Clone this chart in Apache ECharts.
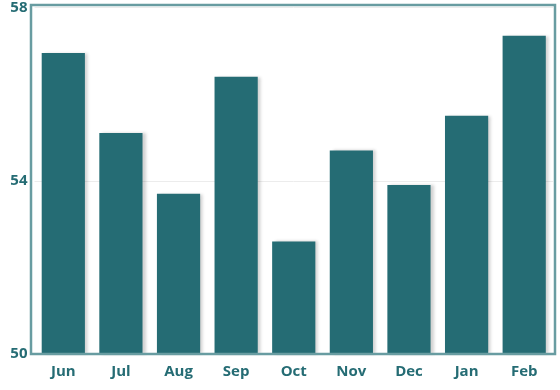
<!DOCTYPE html>
<html><head><meta charset="utf-8">
<script src="https://cdn.jsdelivr.net/npm/echarts@6/dist/echarts.min.js"></script>
<style>html,body{margin:0;padding:0;background:#fff}#c{width:560px;height:390px}</style>
</head><body><div id="c"></div>
<script>
const categories = ['Jun','Jul','Aug','Sep','Oct','Nov','Dec','Jan','Feb'];
const values = [56.95, 55.1, 53.7, 56.4, 52.6, 54.7, 53.9, 55.5, 57.35];
const yMin = 50, yMax = 58, yInterval = 4;
const chart = echarts.init(document.getElementById('c'));
const txt = {color:'#256c74', fontFamily:'Open Sans', fontWeight:'bold', fontSize:15};
chart.setOption({
  animation:false,
  grid:[
    {left:31,right:5,top:5,bottom:36,show:true,borderColor:'#689ca1',borderWidth:2.5,backgroundColor:'transparent',z:3},
    {left:34.5,right:7,top:5,bottom:36}
  ],
  xAxis:[
    {gridIndex:0,type:'value',show:false,min:0,max:1},
    {gridIndex:1,type:'category',data:categories,axisLine:{show:false},axisTick:{show:false},
    axisLabel:Object.assign({margin:10},txt)}
  ],
  yAxis:[
    {gridIndex:0,type:'value',show:false,min:0,max:1},
    {gridIndex:1,type:'value',min:yMin,max:yMax,interval:yInterval,axisLine:{show:false},axisTick:{show:false},
    splitLine:{lineStyle:{color:'#ececec',width:1}},
    axisLabel:Object.assign({margin:7},txt)}
  ],
  series:[{type:'bar',xAxisIndex:1,yAxisIndex:1,data:values,barCategoryGap:'25%',z:1,
    itemStyle:{color:'#256c74',shadowColor:'rgba(0,0,0,0.18)',shadowOffsetX:3,shadowOffsetY:0,shadowBlur:3}}]
});
</script></body></html>
